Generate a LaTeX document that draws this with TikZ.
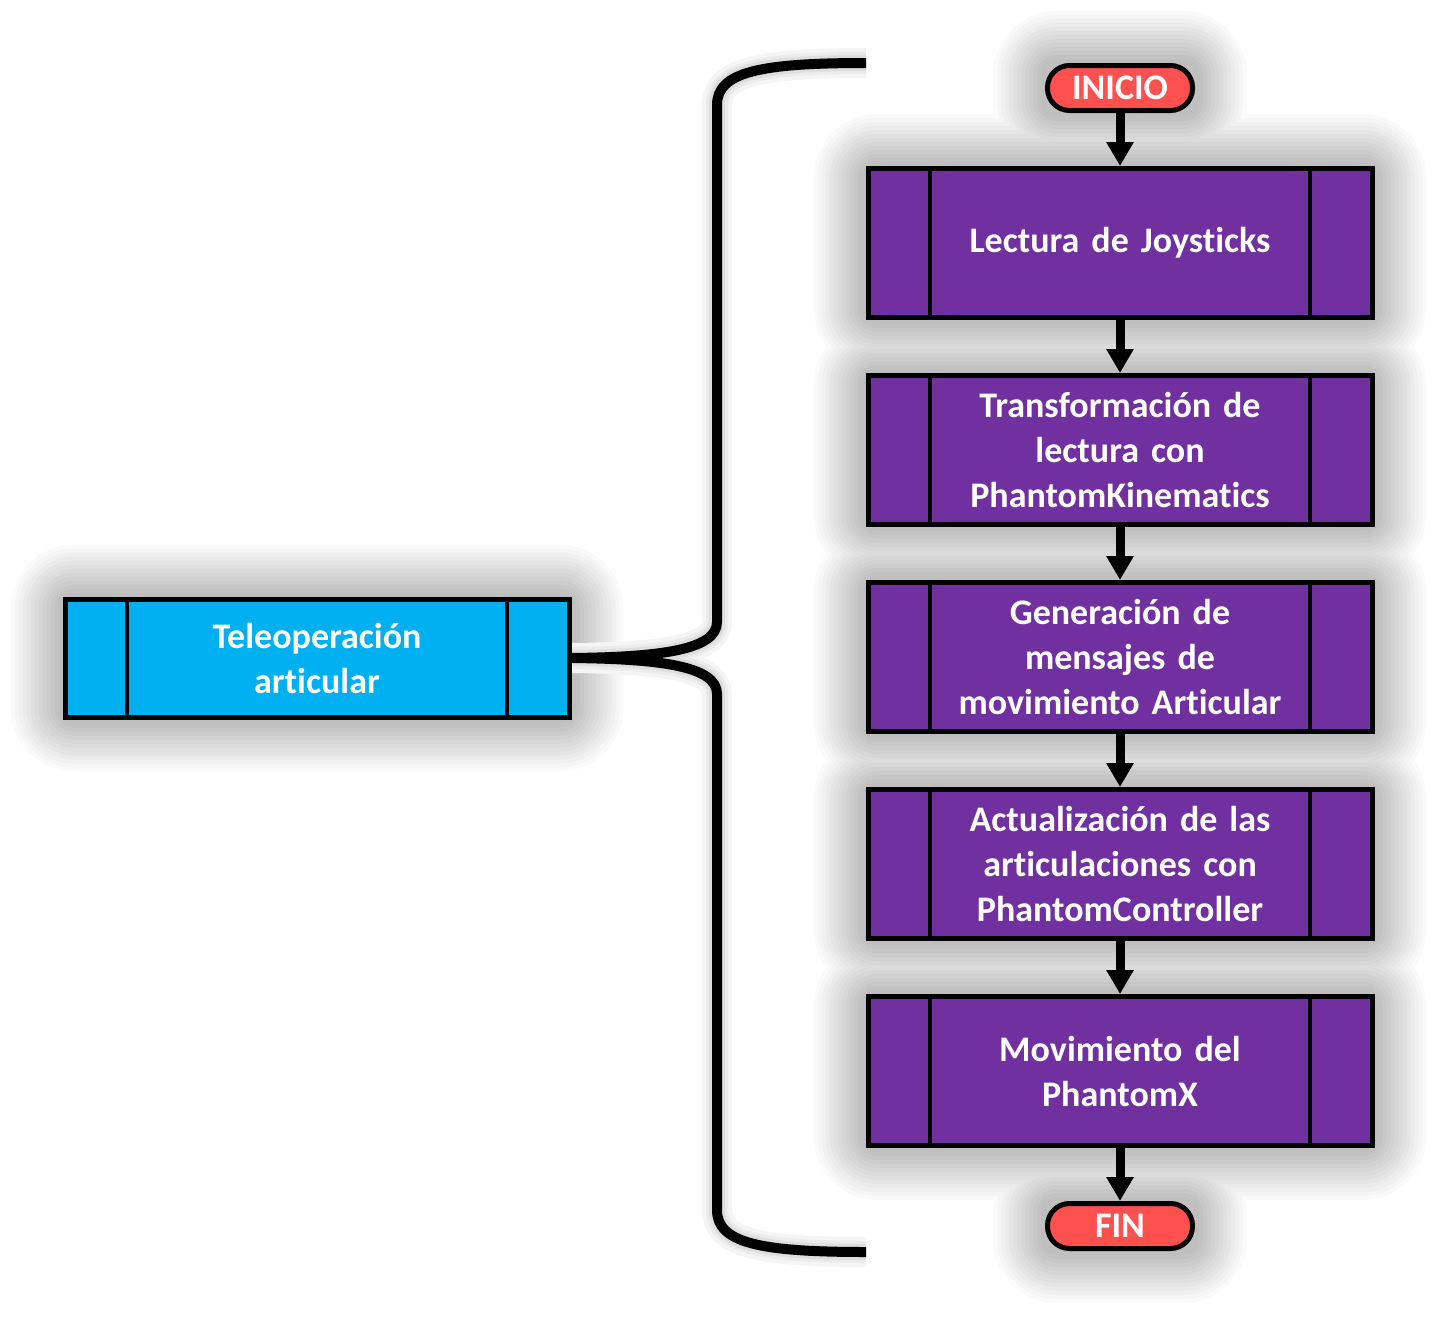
\documentclass[tikz,border=0pt]{standalone}
\usepackage{fontspec}
\setmainfont[Ligatures={NoCommon,NoContextual}]{Carlito}
\usepackage{tikz}
\usetikzlibrary{arrows.meta}
\usetikzlibrary{positioning}
\pgfdeclarelayer{bg}
\pgfsetlayers{bg,main}
\definecolor{morado}{HTML}{7030A0}
\definecolor{celeste}{HTML}{00B0F0}
\definecolor{rojo}{HTML}{FF5050}

\begin{document}
\begin{tikzpicture}[x=1pt,y=-1pt,>={Triangle[length=24pt,width=26pt]},node distance=53pt,font=\bfseries\fontsize{36}{45}\selectfont]
	\tikzstyle{proc}=[draw, line width=5pt, fill=morado, text=white, minimum width=504pt, minimum height=149pt, text width=380pt, align=center,
		path picture={\draw[line width=4pt] ([xshift=62pt]path picture bounding box.north west) -- ([xshift=62pt]path picture bounding box.south west)
			([xshift=-62pt]path picture bounding box.north east) -- ([xshift=-62pt]path picture bounding box.south east);}]
	\tikzstyle{tele}=[proc, fill=celeste, minimum height=118pt]
	\tikzstyle{term}=[draw, line width=5pt, fill=rojo, text=white, rounded corners=22pt, minimum width=145pt, minimum height=45pt, inner sep=0pt]
	\tikzstyle{flecha}=[->, line width=9pt]
	\tikzstyle{llave}=[line width=10pt]

	\useasboundingbox (0,0) rectangle (1438,1317);

	\node[term] 		(inicio) at (1120,88)		{INICIO};
	\node[proc] 		(lect) [below=of inicio]	{Lectura de Joysticks};
	\node[proc] 		(trans) [below=of lect]		{Transformación de\\lectura con\\PhantomKinematics};
	\node[proc] 		(gen) [below=of trans]		{Generación de\\mensajes de\\movimiento Articular};
	\node[proc] 		(act) [below=of gen]		{Actualización de las\\articulaciones con\\PhantomController};
	\node[proc] 		(mov) [below=of act]		{Movimiento del\\PhantomX};
	\node[term] 		(fin) [below=of mov]		{FIN};
	\node[tele] 		(teleop) at (317,658)		{Teleoperación\\articular};

	\coordinate (llsup) at (866,63);
	\coordinate (llinf) at (866,1252);

	\path[flecha]
		(inicio) edge (lect)
		(lect) edge (trans)
		(trans) edge (gen)
		(gen) edge (act)
		(act) edge (mov)
		(mov) edge (fin);

	% llave
	\draw[llave] (llsup) .. controls (760,63) and (717,72) .. (717,105) -- (717,622) .. controls (717,650) and (660,657) .. (teleop.east);
	\draw[llave] (llinf) .. controls (760,1252) and (717,1243) .. (717,1210) -- (717,694) .. controls (717,666) and (660,659) .. (teleop.east);

	% sombras
	\begin{pgfonlayer}{bg}
		\foreach \r/\p in {52/2,48/4,44/6,40/8,36/10,32/12,28/14,24/16,20/18,16/20,12/22,8/24,4/25}{
			\pgfmathsetmacro\rc{\r+12}
			\foreach \n in {inicio,lect,trans,gen,act,mov,fin,teleop}
				\fill[black!\p, rounded corners=\rc pt] ([shift={(-\r,-\r)}]\n.north west) rectangle ([shift={(\r,\r)}]\n.south east);
		}
		\foreach \w/\p in {30/4,22/8,16/13}{
			\draw[black!\p, line width=\w pt] (llsup) .. controls (760,63) and (717,72) .. (717,105) -- (717,622) .. controls (717,650) and (660,657) .. (teleop.east);
			\draw[black!\p, line width=\w pt] (llinf) .. controls (760,1252) and (717,1243) .. (717,1210) -- (717,694) .. controls (717,666) and (660,659) .. (teleop.east);
		}
	\end{pgfonlayer}
\end{tikzpicture}
\end{document}
